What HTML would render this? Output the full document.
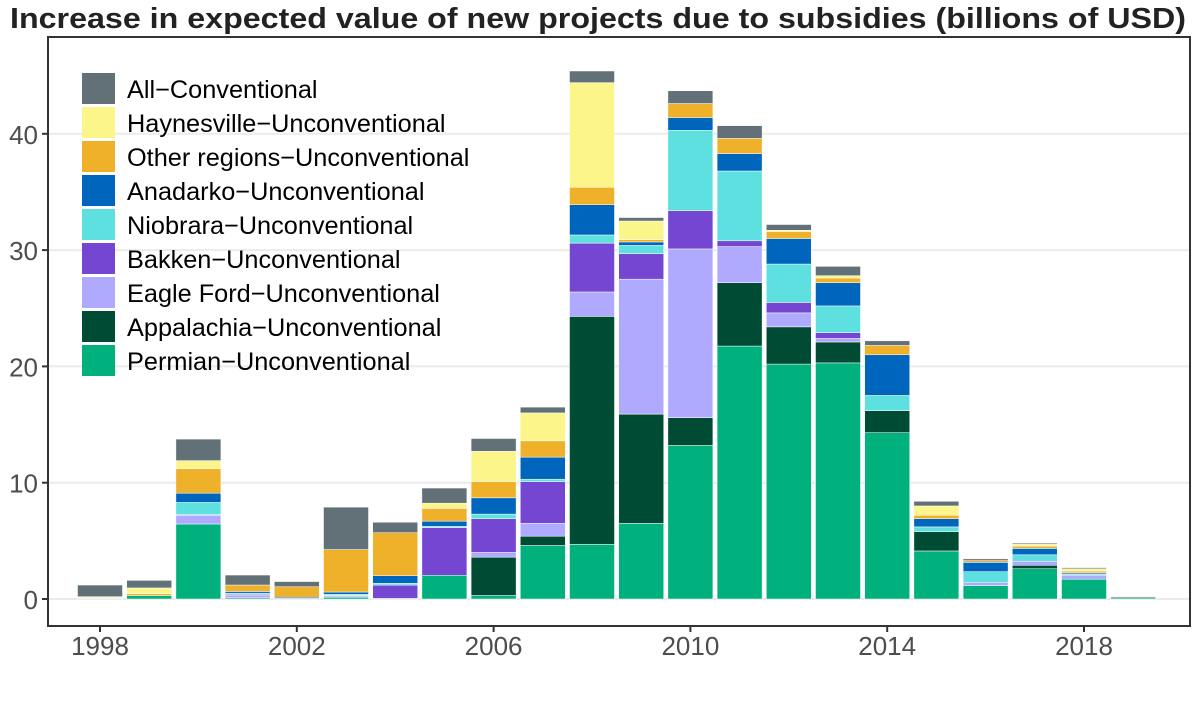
<!DOCTYPE html>
<html><head><meta charset="utf-8"><style>
body{margin:0;background:#fff;}
svg text{font-family:"Liberation Sans",sans-serif;}
</style></head><body>
<svg id="chart" width="1200" height="699" xmlns="http://www.w3.org/2000/svg">
<text x="598" y="28" text-anchor="middle" font-size="29" font-weight="bold" fill="#222" textLength="1176" lengthAdjust="spacingAndGlyphs">Increase in expected value of new projects due to subsidies (billions of USD)</text>
<g id="grid"></g><g id="bars"></g><g id="axes"></g><g id="legend"></g>
</svg>
<script>
const years=[1998,1999,2000,2001,2002,2003,2004,2005,2006,2007,2008,2009,2010,2011,2012,2013,2014,2015,2016,2017,2018,2019];
const permian=[0.05,0.3,6.45,0.1,0.05,0.15,0.05,2.04,0.3,4.6,4.7,6.5,13.2,21.75,20.2,20.3,14.3,4.13,1.15,2.6,1.7,0.1];
const appalachia=[0,0,0,0,0,0,0,0,3.3,0.8,19.6,9.4,2.4,5.45,3.2,1.8,1.9,1.67,0,0.3,0,0];
const eagleFord=[0,0,0.75,0.2,0,0.1,0,0,0.4,1.1,2.1,11.6,14.5,3.1,1.2,0.3,0,0,0.25,0.35,0.35,0];
const bakken=[0,0,0.05,0.1,0,0.05,1.15,4.1,2.9,3.6,4.2,2.2,3.3,0.5,0.9,0.5,0,0,0,0,0,0];
const niobrara=[0.05,0,1.05,0.1,0,0.1,0.15,0.1,0.4,0.2,0.7,0.7,6.9,6.0,3.3,2.3,1.3,0.4,0.95,0.55,0.1,0];
const anadarko=[0,0,0.8,0.15,0.1,0.2,0.65,0.45,1.4,1.9,2.6,0.3,1.1,1.5,2.2,2.0,3.5,0.7,0.8,0.55,0.1,0];
const otherRegions=[0,0.15,2.1,0.55,0.9,3.65,3.7,1.1,1.4,1.4,1.5,0.2,1.2,1.3,0.6,0.4,0.8,0.3,0.15,0.2,0.15,0];
const haynesville=[0.1,0.5,0.7,0,0,0,0,0.45,2.6,2.4,9.0,1.6,0,0,0.1,0.2,0,0.8,0,0.15,0.2,0];
const conventional=[1.0,0.65,1.85,0.86,0.45,3.65,0.9,1.3,1.1,0.5,1.0,0.3,1.1,1.1,0.5,0.8,0.4,0.4,0.15,0.1,0.1,0.1];
const seriesNames=["Permian−Unconventional","Appalachia−Unconventional","Eagle Ford−Unconventional","Bakken−Unconventional","Niobrara−Unconventional","Anadarko−Unconventional","Other regions−Unconventional","Haynesville−Unconventional","All−Conventional"];
const yTicks=[0,10,20,30,40];
const xTicks=[1998,2002,2006,2010,2014,2018];

const series=[permian,appalachia,eagleFord,bakken,niobrara,anadarko,otherRegions,haynesville,conventional];
const colors=["#00b07d","#004b33","#b0aaff","#7446d1","#5ee0e0","#0066bd","#efb02a","#fbf58a","#627077"];
const NS="http://www.w3.org/2000/svg";
const L=48,R=1190,T=37,B=626;
const x=yr=>100+(yr-1998)*49.2;
const y=v=>599-v*11.63;
function mk(tag,attrs,parent){const e=document.createElementNS(NS,tag);for(const k in attrs)e.setAttribute(k,attrs[k]);document.getElementById(parent).appendChild(e);return e;}
yTicks.forEach(t=>{
  const g=mk('line',{x1:L,x2:R,y1:y(t),y2:y(t),stroke:'#ebebeb','stroke-width':2},'grid');
  
  
});
years.forEach((yr,i)=>{
  let cum=0;
  series.forEach((s,j)=>{
    const v=s[i];if(v<=0)return;
    const r=mk('rect',{x:x(yr)-22.5,width:45,y:y(cum+v),height:y(cum)-y(cum+v),fill:colors[j],stroke:'#fff','stroke-width':0.5},'bars');
    
    
    cum+=v;
  });
});
const fr=mk('rect',{x:L,y:T,width:R-L,height:B-T,fill:'none',stroke:'#333','stroke-width':2},'axes');


yTicks.forEach(t=>{
  mk('line',{x1:L-6,x2:L,y1:y(t),y2:y(t),stroke:'#333','stroke-width':2},'axes');
  const tx=mk('text',{x:L-10,y:y(t)+10,'text-anchor':'end','font-size':26,fill:'#4d4d4d'},'axes');
  tx.textContent=t;
  
  
});
xTicks.forEach(t=>{
  mk('line',{x1:x(t),x2:x(t),y1:B,y2:B+6,stroke:'#333','stroke-width':2},'axes');
  const tx=mk('text',{x:x(t),y:B+29,'text-anchor':'middle','font-size':26,fill:'#4d4d4d'},'axes');
  tx.textContent=t;
  
  
});
for(let k=0;k<9;k++){
  const j=8-k, yy=73+k*34;
  const r=mk('rect',{x:82,y:yy,width:33,height:31,fill:colors[j]},'legend');
  
  
  const t=mk('text',{x:127,y:yy+25,'font-size':25.3,fill:'#000'},'legend');
  t.textContent=seriesNames[j];
  
  
}
</script>
</body></html>
